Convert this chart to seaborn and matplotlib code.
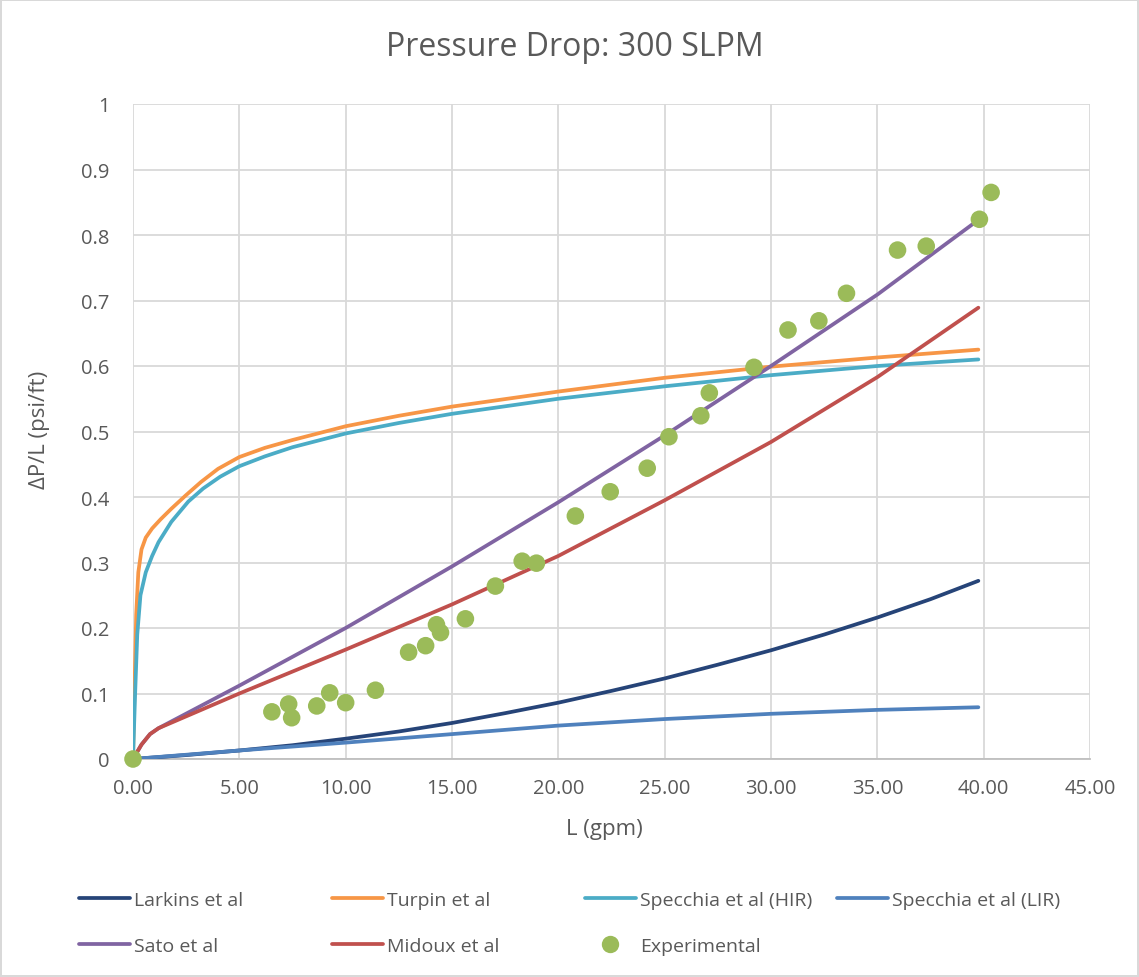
import numpy as np
import pandas as pd
import matplotlib
matplotlib.use("Agg")
import matplotlib.pyplot as plt
import seaborn as sns
from matplotlib.lines import Line2D

# ---------------- data ----------------
larkins_x = [0, 2.5, 5, 7.5, 10, 12.5, 15, 17.5, 20, 22.5, 25, 27.5, 30, 32.5, 35, 37.5, 39.75]
larkins_y = [0, 0.006, 0.013, 0.021, 0.031, 0.042, 0.055, 0.070, 0.086, 0.104, 0.123, 0.144,
             0.166, 0.190, 0.216, 0.244, 0.272]

turpin_x = [0, 0.08, 0.15, 0.25, 0.4, 0.6, 0.9, 1.3, 1.8, 2.5, 3.2, 4.0, 5, 6.2, 7.5, 10, 12.5,
            15, 20, 25, 30, 35, 39.75]
turpin_y = [0, 0.12, 0.22, 0.285, 0.32, 0.338, 0.352, 0.366, 0.382, 0.403, 0.423, 0.443, 0.461,
            0.475, 0.487, 0.508, 0.524, 0.538, 0.561, 0.582, 0.599, 0.613, 0.625]

hir_x = [0, 0.1, 0.2, 0.35, 0.6, 0.9, 1.2, 1.8, 2.6, 3.3, 4.1, 5, 6.2, 7.5, 10, 12.5, 15, 20,
         25, 30, 35, 39.75]
hir_y = [0, 0.10, 0.19, 0.25, 0.285, 0.31, 0.331, 0.362, 0.393, 0.413, 0.431, 0.447, 0.462,
         0.476, 0.497, 0.513, 0.527, 0.550, 0.569, 0.586, 0.600, 0.610]

lir_x = [0, 5, 10, 15, 20, 25, 30, 35, 39.75]
lir_y = [0, 0.013, 0.025, 0.038, 0.051, 0.061, 0.069, 0.075, 0.079]

sato_x = [0, 0.4, 0.8, 1.2, 5, 10, 15, 20, 25, 30, 35, 39.75]
sato_y = [0, 0.022, 0.038, 0.047, 0.112, 0.200, 0.294, 0.392, 0.494, 0.600, 0.709, 0.823]

midoux_x = [0, 0.4, 0.8, 1.2, 5, 10, 15, 20, 25, 30, 35, 39.75]
midoux_y = [0, 0.022, 0.038, 0.047, 0.100, 0.167, 0.236, 0.310, 0.395, 0.484, 0.583, 0.689]

exp_x = [0, 6.53, 7.32, 7.46, 8.64, 9.25, 10.0, 11.4, 12.96, 13.76, 14.27, 14.46,
         15.63, 17.04, 18.3, 18.97, 20.8, 22.44, 24.18, 25.2, 26.7, 27.1, 29.2,
         30.8, 32.25, 33.55, 35.95, 37.3, 39.8, 40.35]
exp_y = [0, 0.072, 0.084, 0.063, 0.081, 0.101, 0.086, 0.105, 0.163, 0.173, 0.205, 0.193,
         0.214, 0.264, 0.302, 0.299, 0.371, 0.408, 0.444, 0.492, 0.524, 0.559, 0.598,
         0.655, 0.669, 0.711, 0.777, 0.783, 0.824, 0.865]

series = [
    ("Larkins et al", larkins_x, larkins_y, "#264478"),
    ("Turpin et al", turpin_x, turpin_y, "#F79646"),
    ("Specchia et al (HIR)", hir_x, hir_y, "#4BACC6"),
    ("Specchia et al (LIR)", lir_x, lir_y, "#4F81BD"),
    ("Sato et al", sato_x, sato_y, "#8064A2"),
    ("Midoux et al", midoux_x, midoux_y, "#C0504D"),
]
exp_label = "Experimental"
exp_color = "#9BBB59"

x_ticks = [0, 5, 10, 15, 20, 25, 30, 35, 40, 45]
y_ticks = [0, 0.1, 0.2, 0.3, 0.4, 0.5, 0.6, 0.7, 0.8, 0.9, 1.0]

# ---------------- plot ----------------
sns.set_theme(style="white")
plt.rcParams['font.family'] = ['Open Sans', 'DejaVu Sans']
txt = "#595959"
W, H = 1139, 978

fig = plt.figure(figsize=(W / 100, H / 100), dpi=100)
fig.patch.set_edgecolor("#d9d9d9")
fig.patch.set_linewidth(1.5)
ax = fig.add_axes([133 / W, 1 - 760 / H, (1090 - 133) / W, (760 - 105) / H])

for name, xs, ys, col in series:
    df = pd.DataFrame({"x": xs, "y": ys})
    sns.lineplot(data=df, x="x", y="y", ax=ax, color=col, linewidth=2.7,
                 sort=False, estimator=None, zorder=3)

dfe = pd.DataFrame({"x": exp_x, "y": exp_y})
sns.scatterplot(data=dfe, x="x", y="y", ax=ax, color=exp_color, s=160,
                edgecolor="none", zorder=4, clip_on=False)

ax.set_xlim(0, 45)
ax.set_ylim(0, 1)
ax.set_xticks(x_ticks)
ax.set_xticklabels([f"{v:.2f}" for v in x_ticks])
ax.set_yticks(y_ticks)
ax.set_yticklabels(["0" if v == 0 else ("1" if v == 1 else f"{v:.1f}") for v in y_ticks])
ax.grid(True, color="#d9d9d9", linewidth=1.3)
ax.set_axisbelow(True)
for s in ["top", "right", "left"]:
    ax.spines[s].set_visible(False)
ax.spines["bottom"].set_color("#bfbfbf")
ax.spines["bottom"].set_linewidth(1.3)
ax.tick_params(axis="both", length=0, labelsize=14.5, colors=txt)
ax.tick_params(axis="y", pad=17)
ax.tick_params(axis="x", pad=14)

ax.set_xlabel("L (gpm)", fontsize=16, color=txt)
ax.xaxis.set_label_coords((604 - 133) / (1090 - 133), -(830 - 760) / (760 - 105))
ax.set_ylabel("ΔP/L (psi/ft)", fontsize=16, color=txt)
ax.yaxis.set_label_coords(-(133 - 39) / (1090 - 133), (760 - 430) / (760 - 105))
ax.yaxis.label.set_verticalalignment("center")
ax.xaxis.label.set_verticalalignment("center")
fig.text(575 / W, 1 - 48 / H, "Pressure Drop: 300 SLPM", ha="center", va="center",
         fontsize=23, color=txt)

# legend: Excel-like fixed grid, one entry per slot
slots = [(79, 901), (332, 901), (585, 901), (837, 901), (79, 947), (332, 947), (585, 947)]
handles = [Line2D([0], [0], color=c, lw=2.7) for _, _, _, c in series]
handles.append(Line2D([0], [0], marker="o", color="none", markerfacecolor=exp_color,
                      markeredgecolor="none", markersize=12.5))
labels = [n for n, _, _, _ in series] + [exp_label]
for (px, py), h, l in zip(slots, handles, labels):
    lg = fig.legend([h], [l], loc="center left", bbox_to_anchor=(px / W, 1 - py / H),
                    frameon=False, fontsize=14, handlelength=2.6, handletextpad=0.25,
                    borderpad=0, borderaxespad=0)
    for t in lg.get_texts():
        t.set_color(txt)

fig.savefig("out.png", dpi=100)
